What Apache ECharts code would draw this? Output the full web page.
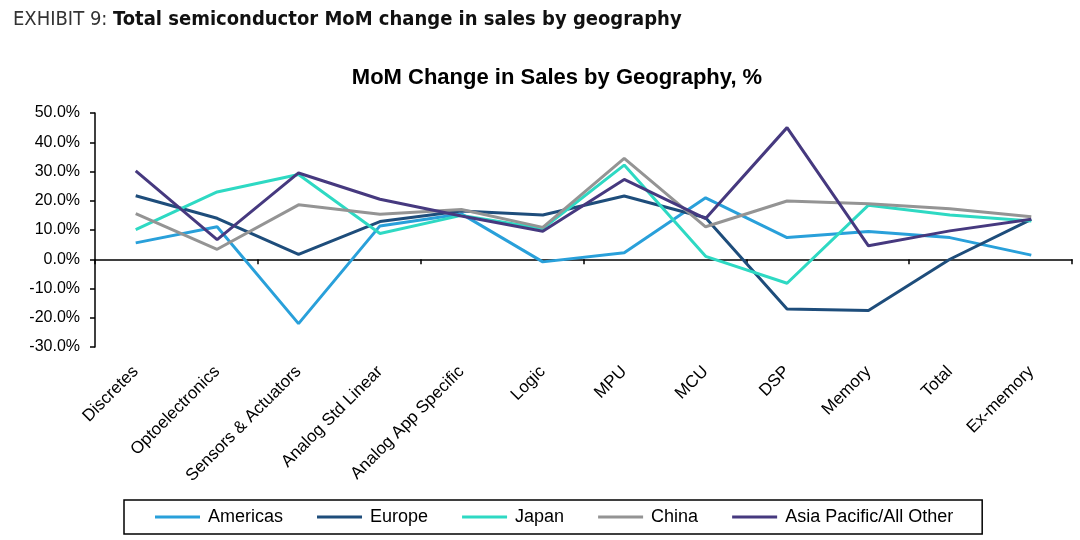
<!DOCTYPE html>
<html>
<head>
<meta charset="utf-8">
<script src="https://cdn.jsdelivr.net/npm/echarts@6/dist/echarts.min.js"></script>
<style>
  html, body { margin: 0; padding: 0; background: #fff; }
  #root { width: 1080px; height: 540px; }
</style>
</head>
<body>
<div id="root"></div>
<script>
// 类别
var categories = ['Discretes', 'Optoelectronics', 'Sensors & Actuators', 'Analog Std Linear',
  'Analog App Specific', 'Logic', 'MPU', 'MCU', 'DSP', 'Memory', 'Total', 'Ex-memory'];

// 各地区环比变化（%）
var americas = [5.6, 11.1, -22.0, 11.4, 15.5, -0.9, 2.2, 21.0, 7.4, 9.5, 7.4, 1.4];
var europe   = [21.7, 14.0, 1.7, 12.9, 16.5, 15.1, 21.6, 14.2, -17.0, -17.5, 0.0, 13.6];
var japan    = [10.1, 23.0, 29.0, 8.8, 15.0, 10.5, 32.2, 1.0, -8.2, 18.5, 15.1, 13.1];
var china    = [15.6, 3.4, 18.6, 15.4, 17.0, 10.9, 34.5, 11.1, 19.9, 19.0, 17.3, 14.5];
var asiaPac  = [30.2, 6.7, 29.5, 20.5, 14.8, 9.6, 27.3, 13.9, 45.0, 4.6, 9.7, 13.7];

var seriesNames = ['Americas', 'Europe', 'Japan', 'China', 'Asia Pacific/All Other'];
var seriesData = [americas, europe, japan, china, asiaPac];
var colors = ['#29a0da', '#1e4d7b', '#2ed9c3', '#949494', '#46397f'];

var yTicks = { min: -30, max: 50, interval: 10 };

var font = '"Liberation Sans", Arial, sans-serif';
var condensed = '"DejaVu Sans Condensed", "Liberation Sans Narrow", sans-serif';

var option = {
  animation: false,
  backgroundColor: '#fff',
  title: [
    {
      left: 8,
      top: 5,
      text: '{a|EXHIBIT 9: }{b|Total semiconductor MoM change in sales by geography}',
      textStyle: {
        rich: {
          a: { fontFamily: condensed, fontSize: 20, fontWeight: 'normal', color: '#333' },
          b: { fontFamily: condensed, fontSize: 20, fontWeight: 'bold', color: '#111' }
        }
      }
    },
    {
      left: 552,
      textAlign: 'center',
      top: 62,
      text: 'MoM Change in Sales by Geography, %',
      textStyle: { fontFamily: font, fontSize: 22, fontWeight: 'bold', color: '#000' }
    }
  ],
  legend: {
    left: 124,
    top: 500,
    padding: [8, 29, 8, 31],
    itemGap: 34,
    itemWidth: 45,
    itemHeight: 3,
    icon: 'rect',
    borderColor: '#000',
    borderWidth: 1.5,
    textStyle: { fontFamily: font, fontSize: 18, color: '#000', padding: [0, 0, 0, 3] },
    data: seriesNames
  },
  grid: { left: 95, right: 8, top: 113, bottom: 193 },
  xAxis: [
    {
      // 零线上的轴线和刻度
      type: 'category',
      data: categories,
      boundaryGap: true,
      axisLine: { onZero: true, lineStyle: { color: '#000', width: 1.5 } },
      axisTick: { show: true, length: 5, lineStyle: { color: '#000', width: 1.5 } },
      axisLabel: { show: false }
    },
    {
      // 底部只放标签
      type: 'category',
      data: categories,
      position: 'bottom',
      boundaryGap: true,
      axisLine: { show: false, onZero: false },
      axisTick: { show: false },
      axisLabel: {
        rotate: 45,
        margin: 22,
        interval: 0,
        fontFamily: font,
        fontSize: 17,
        color: '#000'
      }
    }
  ],
  yAxis: {
    type: 'value',
    min: yTicks.min,
    max: yTicks.max,
    interval: yTicks.interval,
    splitLine: { show: false },
    axisLine: { show: true, lineStyle: { color: '#000', width: 1.5 } },
    axisTick: { show: true, length: 5, lineStyle: { color: '#000', width: 1.5 } },
    axisLabel: {
      margin: 15,
      fontFamily: font,
      fontSize: 16,
      color: '#000',
      formatter: function(v) { return v.toFixed(1) + '%'; }
    }
  },
  series: seriesNames.map(function(name, i) {
    return {
      name: name,
      type: 'line',
      xAxisIndex: 0,
      data: seriesData[i],
      symbol: 'none',
      color: colors[i],
      lineStyle: { color: colors[i], width: 3 }
    };
  })
};

var myChart = echarts.init(document.getElementById('root'));
myChart.setOption(option);
</script>
</body>
</html>
